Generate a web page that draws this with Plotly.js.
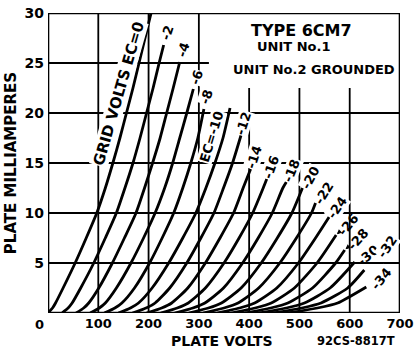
<!DOCTYPE html>
<html><head><meta charset="utf-8">
<script src="https://cdn.plot.ly/plotly-3.0.1.min.js"></script>
<style>html,body{margin:0;padding:0;background:#fff}#chart{width:417px;height:348px}</style>
</head><body><div id="chart"></div>
<script>
// Grid bias of each plotted curve (volts) and the label printed on it
const gridVolts = [0,-2,-4,-6,-8,-10,-12,-14,-16,-18,-20,-22,-24,-26,-28,-30,-32,-34];
const curveLabels = ['GRID VOLTS EC=0','-2','-4','-6','-8','EC=-10','-12','-14','-16','-18','-20','-22','-24','-26','-28','-30','-32','-34'];

// Plate volts (V) and plate milliamperes (I)
const ec0V   = [0,9,15,30,54,76,97,114,129,143,156,169,181,193,205];
const ec0I   = [0,0.5,1,2.5,5,7.5,10,12.5,15,17.5,20,22.5,25,27.5,30];
const ec2V   = [28,40,48,65,91,114,136,153,169,183,196,209,221,230];
const ec2I   = [0,0.5,1,2.5,5,7.5,10,12.5,15,17.5,20,22.5,25,26.8];
const ec4V   = [56,71,81,101,128,152,175,192,208,223,236,249,262];
const ec4I   = [0,0.5,1,2.5,5,7.5,10,12.5,15,17.5,20,22.5,25.1];
const ec6V   = [84,102,114,136,165,190,213,232,248,262,276,289];
const ec6I   = [0,0.5,1,2.5,5,7.5,10,12.5,15,17.5,20,22.4];
const ec8V   = [112,133,147,172,202,227,250,268,284,298,310];
const ec8I   = [0,0.5,1,2.5,5,7.5,10,12.5,15,17.5,20.4];
const ec10V  = [140,164,180,207,240,268,294,314,332,348,362];
const ec10I  = [0,0.5,1,2.5,5,7.5,10,12.5,15,17.5,20.5];
const ec12V  = [168,195,213,242,276,304,330,349,367,384];
const ec12I  = [0,0.5,1,2.5,5,7.5,10,12.5,15,17.8];
const ec14V  = [196,226,246,278,313,342,369,388,403];
const ec14I  = [0,0.5,1,2.5,5,7.5,10,12.5,14.4];
const ec16V  = [224,257,279,313,350,380,407,428,435];
const ec16I  = [0,0.5,1,2.5,5,7.5,10,12.5,13.4];
const ec18V  = [252,288,312,349,387,418,446,467,474];
const ec18I  = [0,0.5,1,2.5,5,7.5,10,12.5,13.1];
const ec20V  = [280,319,345,384,424,456,485,506];
const ec20I  = [0,0.5,1,2.5,5,7.5,10,12.5];
const ec22V  = [308,350,378,419,461,494,524,532];
const ec22I  = [0,0.5,1,2.5,5,7.5,10,11];
const ec24V  = [336,381,411,455,498,532,559];
const ec24I  = [0,0.5,1,2.5,5,7.5,9.6];
const ec26V  = [364,412,444,490,535,573];
const ec26I  = [0,0.5,1,2.5,5,7.8];
const ec28V  = [392,443,477,526,572,590];
const ec28I  = [0,0.5,1,2.5,5,6.3];
const ec30V  = [420,474,510,561,610];
const ec30I  = [0,0.5,1,2.5,5.1];
const ec32V  = [448,505,543,596,629];
const ec32I  = [0,0.5,1,2.5,4.3];
const ec34V  = [476,536,576,633];
const ec34I  = [0,0.5,1,2.6];

const xTickVals = [100,200,300,400,500,600,700];
const xTickText = ['100','200','300','400','500','600','700'];
const yTickVals = [5,10,15,20,25,30];
const yTickText = ['5','10','15','20','25','30'];
const typeLines = ['TYPE 6CM7','UNIT No.1','UNIT No.2 GROUNDED'];
const drawingNo = '92CS-8817T';

const curvesV = [ec0V,ec2V,ec4V,ec6V,ec8V,ec10V,ec12V,ec14V,ec16V,ec18V,ec20V,ec22V,ec24V,ec26V,ec28V,ec30V,ec32V,ec34V];
const curvesI = [ec0I,ec2I,ec4I,ec6I,ec8I,ec10I,ec12I,ec14I,ec16I,ec18I,ec20I,ec22I,ec24I,ec26I,ec28I,ec30I,ec32I,ec34I];

const FONT = 'DejaVu Sans, Arial, sans-serif';
const traces = curvesV.map((v, k) => ({
  type: 'scatter', mode: 'lines', x: v, y: curvesI[k],
  name: 'Ec=' + gridVolts[k],
  line: {color: '#000', width: 2.8, shape: 'spline', smoothing: 0.6},
  hoverinfo: 'skip', showlegend: false
}));

// label placement (pixel offsets from the curve's last point / chosen point), angle, arrow
const labelStyle = [
  {pt: 11, dx: -14, dy: -5, ang: -74, size: 15},
  {dx: 3, dy: 12, ang: -72}, {dx: 3, dy: 12, ang: -72}, {dx: 3, dy: 12, ang: -72},
  {dx: 2, dy: 12, ang: -72},
  {dx: -19, dy: -29, ang: -73},
  {dx: 2, dy: 12, ang: -72}, {dx: 3, dy: 12, ang: -72}, {dx: 4, dy: 12, ang: -70},
  {dx: 5, dy: 12, ang: -68},
  {dx: 8, dy: 11, ang: -62}, {dx: 8, dy: 10, ang: -58}, {dx: 8, dy: 10, ang: -55},
  {dx: 12, dy: 11, ang: -50, arrow: true}, {dx: 13, dy: 11, ang: -48, arrow: true},
  {dx: 13, dy: 7, ang: -40, arrow: true},
  {dx: 23, dy: 24, ang: -55}, {dx: 15, dy: 9, ang: -50}
];

const annotations = [];
curveLabels.forEach((txt, k) => {
  const s = labelStyle[k];
  const idx = (s.pt !== undefined) ? s.pt : curvesV[k].length - 1;
  const a = {
    x: curvesV[k][idx], y: curvesI[k][idx], xref: 'x', yref: 'y',
    text: txt, textangle: s.ang,
    font: {family: FONT, size: s.size || 13, color: '#000', weight: 'bold'},
    bgcolor: s.arrow ? 'rgba(0,0,0,0)' : '#fff', borderpad: 0
  };
  if (s.arrow) {
    Object.assign(a, {showarrow: true, ax: s.dx, ay: -s.dy, arrowhead: 2, arrowsize: 0.7,
      arrowwidth: 1.4, arrowcolor: '#000', standoff: 1});
  } else {
    Object.assign(a, {showarrow: false, xshift: s.dx, yshift: s.dy});
  }
  annotations.push(a);
});

// type box text
const typeSpec = [{x: 504, y: 28.3, size: 16}, {x: 488, y: 26.7, size: 13}, {x: 528, y: 24.4, size: 13}];
typeLines.forEach((t, k) => annotations.push({
  x: typeSpec[k].x, y: typeSpec[k].y, xref: 'x', yref: 'y', text: t, showarrow: false,
  font: {family: FONT, size: typeSpec[k].size, color: '#000', weight: 'bold'}
}));
// shared origin label, x-axis title and drawing number (placed in the bottom margin)
annotations.push({x: 0, y: 0, xref: 'x', yref: 'y', text: '0', showarrow: false, xshift: -9, yshift: -11,
  font: {family: FONT, size: 13, color: '#000', weight: 'bold'}});
annotations.push({x: 347, y: 0, xref: 'x', yref: 'y', text: 'PLATE VOLTS', showarrow: false, yshift: -28,
  font: {family: FONT, size: 14, color: '#000', weight: 'bold'}});
annotations.push({x: 612, y: 0, xref: 'x', yref: 'y', text: drawingNo, showarrow: false, yshift: -28,
  font: {family: FONT, size: 11.5, color: '#000', weight: 'bold'}});

// grid lines (the grid is left open behind the type box)
const shapes = [];
const gl = {color: '#000', width: 1.8};
[5,10,15,20].forEach(v => shapes.push({type:'line', xref:'x', yref:'y', x0:0, x1:700, y0:v, y1:v, line: gl, layer:'below'}));
shapes.push({type:'line', xref:'x', yref:'y', x0:0, x1:320, y0:25, y1:25, line: gl, layer:'below'});
[100,200,300].forEach(v => shapes.push({type:'line', xref:'x', yref:'y', x0:v, x1:v, y0:0, y1:30, line: gl, layer:'below'}));
[400,500,600].forEach(v => shapes.push({type:'line', xref:'x', yref:'y', x0:v, x1:v, y0:0, y1:22.5, line: gl, layer:'below'}));
shapes.push({type:'rect', xref:'x', yref:'y', x0:0, x1:700, y0:0, y1:30, line:{color:'#000', width:2.6}, layer:'above'});

const layout = {
  width: 417, height: 348,
  margin: {l: 48, r: 17, t: 13, b: 35, pad: 0},
  paper_bgcolor: '#fff', plot_bgcolor: '#fff',
  showlegend: false,
  xaxis: {range: [0, 700], showgrid: false, zeroline: false, showline: false, ticks: '',
    tickvals: xTickVals, ticktext: xTickText, ticklabelstandoff: 1,
    tickfont: {family: FONT, size: 13, color: '#000', weight: 'bold'}},
  yaxis: {range: [0, 30], showgrid: false, zeroline: false, showline: false, ticks: '',
    tickvals: yTickVals, ticktext: yTickText, ticklabelstandoff: 3,
    tickfont: {family: FONT, size: 14, color: '#000', weight: 'bold'},
    title: {text: 'PLATE MILLIAMPERES', standoff: 4, font: {family: FONT, size: 15, color: '#000', weight: 'bold'}}},
  shapes: shapes,
  annotations: annotations
};
Plotly.newPlot('chart', traces, layout, {staticPlot: true, displayModeBar: false});
</script></body></html>
